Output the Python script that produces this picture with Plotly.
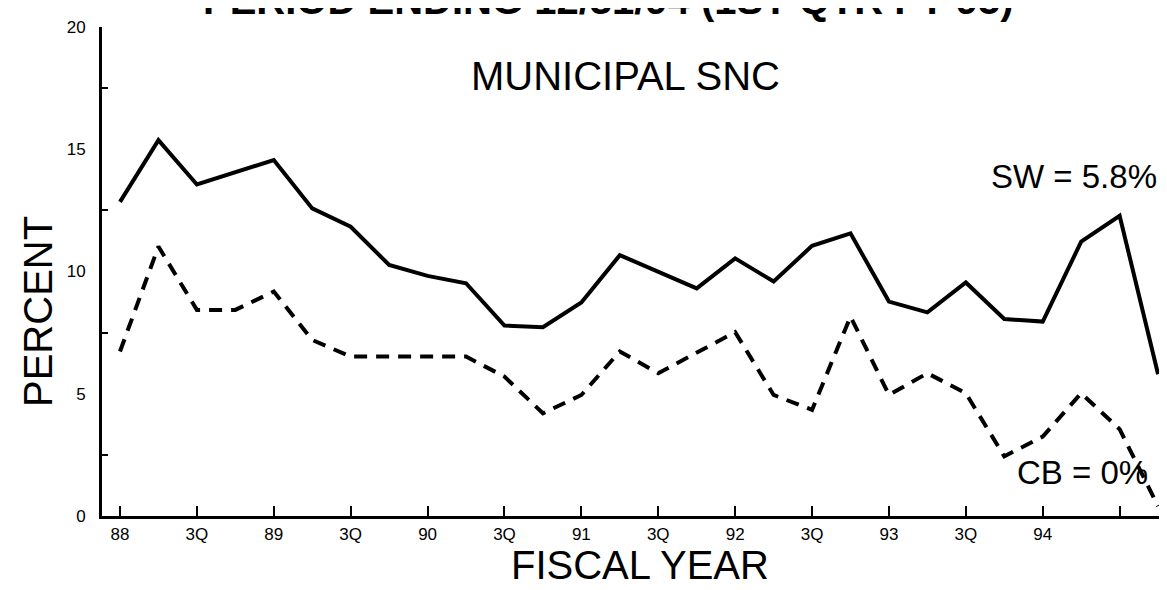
import plotly.graph_objects as go

# Quarters from FY88 Q1 onward (index positions on the x axis)
quarters = list(range(28))
tick_positions = list(range(0, 28, 2))
tick_labels = ["88", "3Q", "89", "3Q", "90", "3Q", "91", "3Q", "92", "3Q", "93", "3Q", "94", ""]

# SW series (solid line), percent
sw_values = [12.85, 15.37, 13.56, 14.08, 14.56, 12.58, 11.83, 10.27, 9.82, 9.52,
             7.79, 7.72, 8.73, 10.67, 10.00, 9.31, 10.54, 9.59, 11.05, 11.56,
             8.77, 8.33, 9.55, 8.06, 7.95, 11.22, 12.28, 5.80]

# CB series (dashed line), percent
cb_values = [6.73, 11.02, 8.43, 8.43, 9.18, 7.20, 6.52, 6.52, 6.52, 6.52,
             5.70, 4.20, 4.95, 6.73, 5.84, 6.66, 7.52, 4.95, 4.34, 8.16,
             4.95, 5.84, 5.02, 2.44, 3.25, 5.02, 3.55, 0.40]

y_tick_values = [0, 5, 10, 15, 20]
y_minor_ticks = [2.5, 7.5, 12.5, 17.5]

FONT = "Liberation Sans, Arial, Helvetica, sans-serif"

W, H = 1167, 590
L, R, T, B = 94, 0, 19, 82
PW, PH = W - L - R, H - T - B


def px(xp):
    return (xp - L) / PW


def py(yp):
    return (H - B - yp) / PH


fig = go.Figure()
fig.add_trace(go.Scatter(x=quarters, y=sw_values, mode="lines",
                         line=dict(color="black", width=4), showlegend=False,
                         hoverinfo="skip"))
fig.add_trace(go.Scatter(x=quarters, y=cb_values, mode="lines",
                         line=dict(color="black", width=4, dash="13px,9px"),
                         showlegend=False, hoverinfo="skip"))

fig.update_xaxes(range=[-0.468, 27.44], tickvals=tick_positions, ticktext=tick_labels,
                 ticks="inside", ticklen=10, tickwidth=2, tickcolor="black",
                 showline=True, linecolor="black", linewidth=3,
                 showgrid=False, zeroline=False,
                 tickfont=dict(family=FONT, size=17, color="black"),
                 ticklabelstandoff=1)
fig.update_yaxes(range=[0, 20], tickvals=y_tick_values,
                 ticks="", showline=True, linecolor="black", linewidth=3,
                 showgrid=False, zeroline=False,
                 minor=dict(tickvals=y_minor_ticks, ticks="inside", ticklen=6,
                            tickwidth=2, tickcolor="black", showgrid=False),
                 tickfont=dict(family=FONT, size=17, color="black"),
                 ticklabelstandoff=10)

annotations = [
    dict(text="<b>PERIOD ENDING 12/31/94 (1ST QTR FY 95)</b>", x=px(600), y=py(-8),
         font=dict(family=FONT, size=40, color="black")),
    dict(text="MUNICIPAL SNC", x=px(617), y=py(68),
         font=dict(family=FONT, size=40, color="black")),
    dict(text="SW = 5.8%", x=px(1066), y=py(168),
         font=dict(family=FONT, size=33, color="black")),
    dict(text="CB = 0%", x=px(1074), y=py(464),
         font=dict(family=FONT, size=33, color="black")),
    dict(text="PERCENT", x=px(30), y=py(304), textangle=-90,
         font=dict(family=FONT, size=40, color="black")),
    dict(text="FISCAL YEAR", x=px(632), y=py(557),
         font=dict(family=FONT, size=40, color="black")),
]
for a in annotations:
    a.update(xref="paper", yref="paper", showarrow=False,
             xanchor="center", yanchor="middle")

fig.update_layout(width=W, height=H, margin=dict(l=L, r=R, t=T, b=B),
                  plot_bgcolor="white", paper_bgcolor="white",
                  annotations=annotations, showlegend=False)

fig.write_html("out.html")
